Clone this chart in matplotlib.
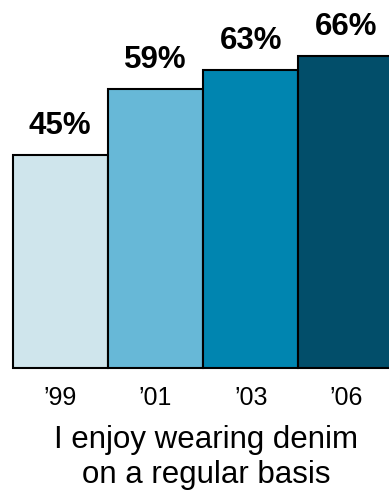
import matplotlib
matplotlib.use("Agg")
import matplotlib.pyplot as plt

years = ["\u201999", "\u201901", "\u201903", "\u201906"]
values = [45, 59, 63, 66]
labels = ["45%", "59%", "63%", "66%"]
colors = ["#cfe5ec", "#67b8d7", "#0085b0", "#024e6a"]
caption_lines = ["I enjoy wearing denim", "on a regular basis"]

W, H = 389, 491
fig = plt.figure(figsize=(W/100, H/100), dpi=100)
ax = fig.add_axes([0, 0, 1, 1])
ax.set_axis_off()

px_x = 95.3
px_y = 4.73
x_left = -0.5 - 12.5/px_x
y_bottom = -(H - 368)/px_y
ax.set_xlim(x_left, x_left + W/px_x)
ax.set_ylim(y_bottom, y_bottom + H/px_y)

xs = list(range(len(values)))
ax.bar(xs, values, width=1.0, color=colors, edgecolor="black", linewidth=1.5)

for x, v, lab in zip(xs, values, labels):
    ax.text(x, v + 21/px_y, lab, ha="center", va="baseline",
            fontsize=22.5, fontweight="bold", family="Liberation Sans")

for x, y in zip(xs, years):
    ax.text(x, -37/px_y, y, ha="center", va="baseline", fontsize=18,
            family="Liberation Sans")

fig.text(206/W, 1 - 448/H, caption_lines[0], ha="center", va="baseline",
         fontsize=22.5, family="Liberation Sans")
fig.text(206/W, 1 - 483/H, caption_lines[1], ha="center", va="baseline",
         fontsize=22.5, family="Liberation Sans")

fig.savefig("out.png", dpi=100)
